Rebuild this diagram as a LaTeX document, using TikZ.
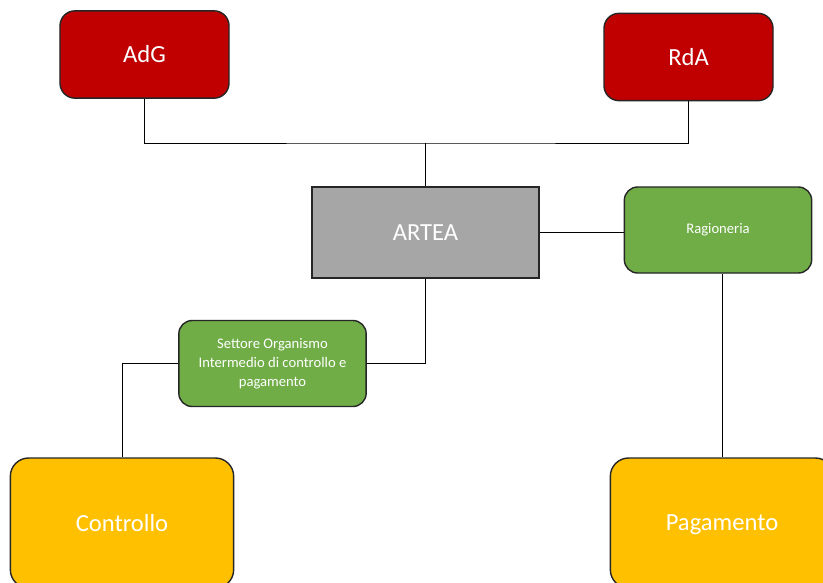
\documentclass[tikz,border=0pt]{standalone}
\usepackage{fontspec}
\setmainfont{Carlito}
\definecolor{rosso}{HTML}{C00000}
\definecolor{grigio}{HTML}{A6A6A6}
\definecolor{verde}{HTML}{70AD47}
\definecolor{giallo}{HTML}{FFC000}
\begin{document}
\begin{tikzpicture}[x=0.03cm,y=-0.03cm,
 box/.style={draw=black!85,line width=1.2pt,text=white,align=center,inner sep=2pt},
 capo/.style={box,rounded corners=0.45cm,fill=rosso,minimum width=5.07cm,minimum height=2.62cm,font=\fontsize{21}{25}\selectfont},
 ente/.style={box,fill=grigio,minimum width=6.81cm,minimum height=2.73cm,font=\fontsize{21}{25}\selectfont},
 ufficio/.style={box,rounded corners=0.4cm,fill=verde,minimum width=5.62cm,minimum height=2.58cm,font=\fontsize{12.5}{16}\selectfont},
 fase/.style={box,rounded corners=0.55cm,fill=giallo,minimum width=6.7cm,minimum height=3.9cm,text depth=0pt,font=\fontsize{21}{25}\selectfont},
 filo/.style={line width=0.8pt,black},
 ]
 \useasboundingbox[fill=white] (0,0) rectangle (823,582);
 % caselle
 \node[capo] (adg) at (144.5,54.5) {AdG};
 \node[capo] (rda) at (688.5,57) {RdA};
 \node[ente] (artea) at (425.5,232.5) {ARTEA};
 \node[ufficio] (rag) at (718,230) {Ragioneria};
 \node[ufficio] (sett) at (272.5,363.5) {Settore Organismo\\Intermedio di controllo e\\pagamento};
 \node[fase] (contr) at (122,523) {Controllo};
 \node[fase] (pag) at (722,523) {Pagamento};
 \coordinate (nodo) at (425.5,143);
 % collegamenti
 \draw[filo] (adg.south) |- (nodo) -| (rda.south);
 \draw[filo] (artea.north) -- (nodo);
 \draw[filo] (artea.east) -- (artea.east -| rag.west);
 \draw[filo] (artea.south) |- (sett.east);
 \draw[filo] (sett.west) -| (contr.north);
 \draw[filo] (pag.north |- rag.south) -- (pag.north);
\end{tikzpicture}
\end{document}
